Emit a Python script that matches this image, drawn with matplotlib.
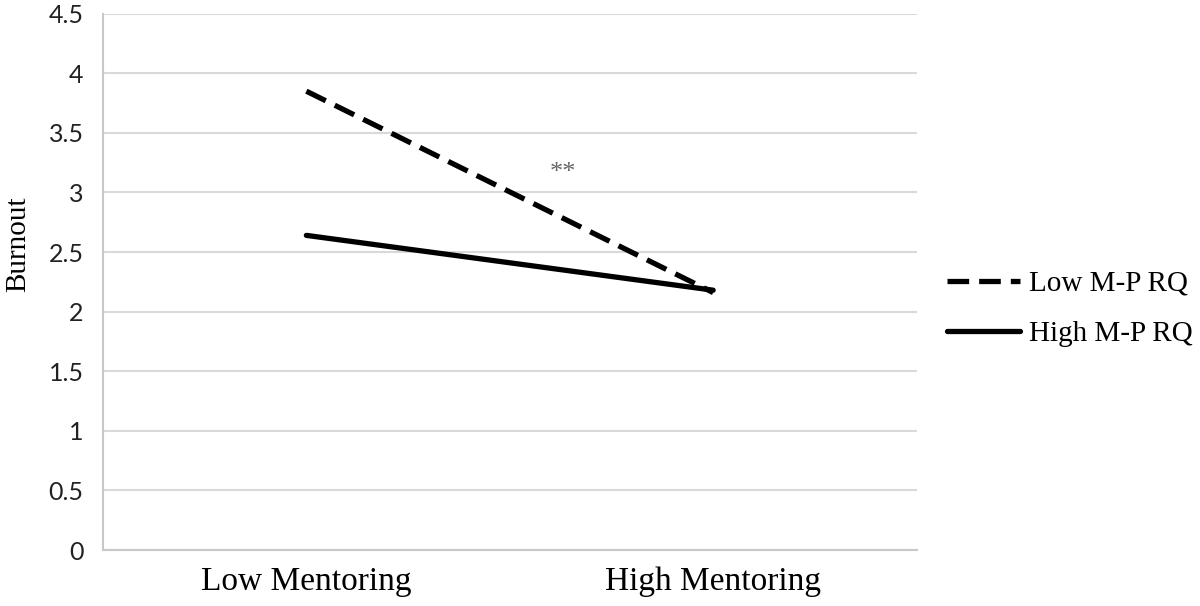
import matplotlib
matplotlib.use("Agg")
import matplotlib.pyplot as plt

categories = ["Low Mentoring", "High Mentoring"]
low_mprq = [3.85, 2.16]
high_mprq = [2.64, 2.18]
series_labels = ["Low M-P RQ", "High M-P RQ"]
y_ticks = [0, 0.5, 1, 1.5, 2, 2.5, 3, 3.5, 4, 4.5]
y_tick_labels = ["0", "0.5", "1", "1.5", "2", "2.5", "3", "3.5", "4", "4.5"]
annotation_text = "**"
annotation_pos = (0.63, 3.16)

fig = plt.figure(figsize=(12, 6.06), dpi=100)
ax = fig.add_axes([0.0858, 0.0924, 0.678, 0.885])

x = list(range(len(categories)))
ax.plot(x, low_mprq, color="black", lw=3.8, linestyle=(0, (4.1, 1.9)),
        dash_capstyle="butt", solid_capstyle="round", label=series_labels[0], zorder=3)
ax.plot(x, high_mprq, color="black", lw=3.8, solid_capstyle="round",
        label=series_labels[1], zorder=3)

ax.set_xlim(-0.5, 1.5)
ax.set_ylim(0, 4.5)
ax.set_yticks(y_ticks)
ax.set_yticklabels(y_tick_labels, fontfamily="Lato", fontsize=18, color="#222222")
ax.set_xticks(x)
ax.set_xticklabels(categories, fontfamily="Liberation Serif", fontsize=24)
ax.tick_params(axis="y", length=0, pad=14)
ax.tick_params(axis="x", length=0, pad=12)

ax.grid(axis="y", color="#d9d9d9", lw=1.5)
ax.set_axisbelow(True)
for s in ["top", "right"]:
    ax.spines[s].set_visible(False)
for s in ["left", "bottom"]:
    ax.spines[s].set_color("#c8c8c8")
    ax.spines[s].set_linewidth(1.5)

ax.set_ylabel("Burnout", fontfamily="Liberation Serif", fontsize=21)
ax.yaxis.set_label_coords(-0.088, 0.571)

ax.text(annotation_pos[0], annotation_pos[1], annotation_text, fontfamily="Liberation Serif",
        fontsize=19, color="#666666", ha="center", va="center")

leg = ax.legend(loc="center left", bbox_to_anchor=(1.005, 0.45), frameon=False,
                prop={"family": "Liberation Serif", "size": 21},
                handlelength=2.5, handletextpad=0.3, labelspacing=0.8)

fig.savefig("out.png", dpi=100)
